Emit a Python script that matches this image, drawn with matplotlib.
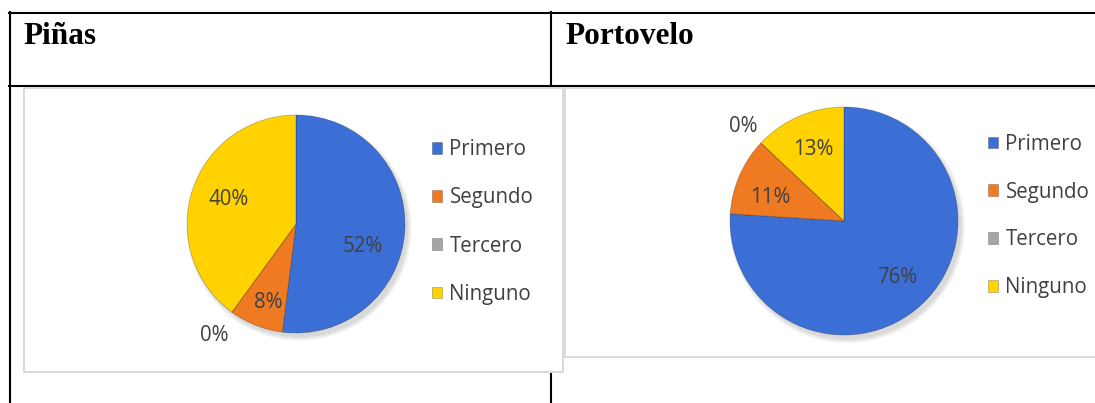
#!/usr/bin/python
# Two pie charts (Piñas / Portovelo) laid out inside a table, as in the report.

import numpy as np
import matplotlib
matplotlib.use("Agg")
import matplotlib.pyplot as plt
from matplotlib.lines import Line2D
from matplotlib.patches import Rectangle, Circle

# data
categories     = ["Primero", "Segundo", "Tercero", "Ninguno"]
titles         = ["Piñas", "Portovelo"]
pinas_pct      = [52, 8, 0, 40]
portovelo_pct  = [76, 11, 0, 13]
values         = [pinas_pct, portovelo_pct]

W, H = 1095, 403
colors     = ["#3B6FD6", "#F07A22", "#A5A5A5", "#FFD200"]
text_color = "#404040"
plt.rcParams["font.family"] = ["Open Sans", "DejaVu Sans"]

def fx(px):
    return px / W

def fy(py):
    return 1 - py / H

def hline(fig, y, x0, x1, color="black", lw=1.5, z=0.5):
    fig.add_artist(Line2D([fx(x0), fx(x1)], [fy(y), fy(y)], color=color,
                          lw=lw, transform=fig.transFigure, zorder=z))

def vline(fig, x, y0, y1, color="black", lw=1.5, z=0.5):
    fig.add_artist(Line2D([fx(x), fx(x)], [fy(y0), fy(y1)], color=color,
                          lw=lw, transform=fig.transFigure, zorder=z))

def chart_box(fig, x0, y0, x1, y1):
    fig.add_artist(Rectangle((fx(x0), fy(y1)), fx(x1) - fx(x0), fy(y0) - fy(y1),
                             facecolor="white", edgecolor="#d9d9d9", lw=1.4,
                             transform=fig.transFigure, zorder=1))

def draw_pie(fig, vals, cx, cy, r, label_r, label_shift, legend_xy, spacing):
    """
    Draw one pie centered at (cx, cy) pixels with radius r pixels.
    """
    k = 1.45
    ax = fig.add_axes([fx(cx - k*r), fy(cy + k*r), 2*k*r/W, 2*k*r/H], zorder=2)
    ax.patch.set_visible(False)

    # soft shadow
    for i, a in enumerate([0.05, 0.05, 0.05]):
        ax.add_patch(Circle((0.03, -0.04), 1.0 + 0.015*i, color="black",
                            alpha=a, lw=0, zorder=0))

    wedges, _ = ax.pie(vals, colors=colors, startangle=90, counterclock=False,
                       radius=1.0,
                       wedgeprops=dict(edgecolor=(0, 0, 0, 0.25), linewidth=0.6))
    for w in wedges:
        w.set_zorder(1)

    # percentage labels
    for w, v, lr, sh in zip(wedges, vals, label_r, label_shift):
        ang = np.deg2rad((w.theta1 + w.theta2) / 2 + sh)
        ax.text(lr*np.cos(ang), lr*np.sin(ang), "%d%%" % v, ha="center",
                va="center", fontsize=14.8, color=text_color, zorder=3)

    ax.set_xlim(-k, k)
    ax.set_ylim(-k, k)
    ax.set_aspect("equal")
    ax.axis("off")

    fig.legend(wedges, categories, loc="center left",
               bbox_to_anchor=(fx(legend_xy[0]), fy(legend_xy[1])),
               frameon=False, fontsize=14.8, labelcolor=text_color,
               handlelength=0.5, handleheight=0.5, handletextpad=0.35,
               labelspacing=spacing, borderpad=0, borderaxespad=0)

def main():
    fig = plt.figure(figsize=(W/100, H/100), dpi=100)

    # table lines
    hline(fig, 12.5, 9, W)
    hline(fig, 86, 9, W)
    vline(fig, 10, 12, H)
    vline(fig, 551, 12, H)

    # headers
    fig.text(fx(23), fy(44.5), titles[0], family=["Liberation Serif"],
             fontweight="bold", fontsize=22.5, va="baseline", ha="left")
    fig.text(fx(565), fy(44.5), titles[1], family=["Liberation Serif"],
             fontweight="bold", fontsize=22.5, va="baseline", ha="left")

    # chart frames
    chart_box(fig, 24, 88, 563, 372)
    chart_box(fig, 565, 88, W + 10, 357)

    draw_pie(fig, values[0], 296, 224, 109,
             [0.65, 0.76, 1.27, 0.66], [-15, 2, 0, -2], (432, 222), 1.32)
    draw_pie(fig, values[1], 844, 221, 114,
             [0.68, 0.68, 1.21, 0.68], [0, 6, 0, 0], (988, 216), 1.3)

    fig.savefig("out.png", dpi=100)

if __name__ == "__main__":
    main()
